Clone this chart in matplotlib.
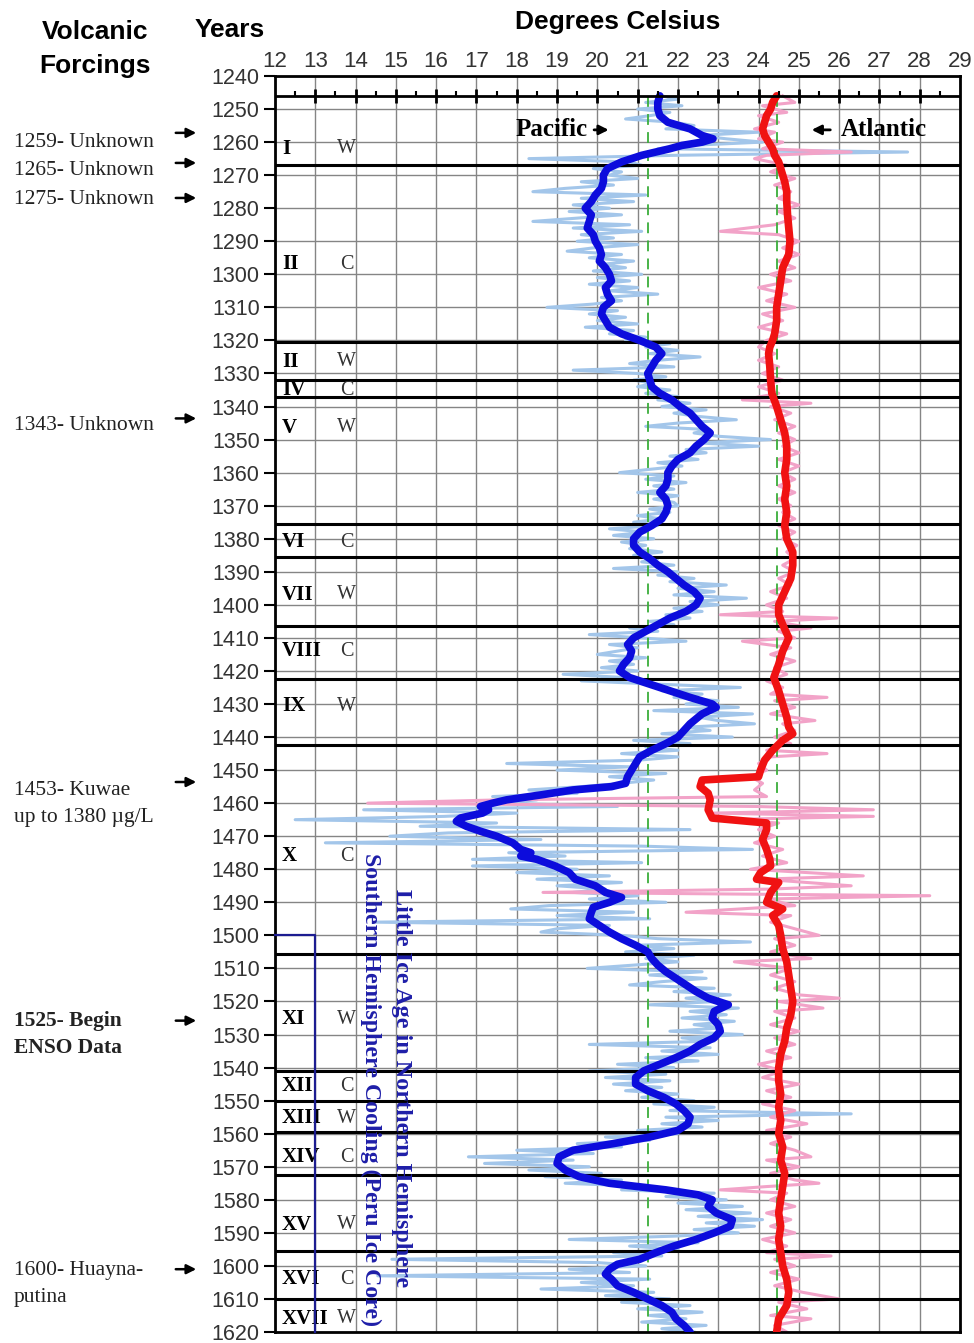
import numpy as np
import matplotlib
matplotlib.use('Agg')
from matplotlib import pyplot as plt

W, H = 974, 1343

# smoothed reconstructions (year, degrees C)
pac_years = [1246, 1248, 1250, 1252, 1254, 1256, 1258, 1259, 1260, 1261, 1262, 1264, 1266, 1268,
             1270, 1272, 1274, 1276, 1278, 1280, 1282, 1284, 1286, 1288, 1290, 1292, 1294, 1296,
             1298, 1300, 1302, 1304, 1306, 1308, 1310, 1312, 1314, 1316, 1318, 1320, 1322, 1324,
             1326, 1328, 1330, 1332, 1334, 1336, 1338, 1340, 1342, 1344, 1346, 1348, 1350, 1352,
             1354, 1356, 1358, 1360, 1362, 1364, 1366, 1368, 1370, 1372, 1374, 1376, 1378, 1380,
             1382, 1384, 1386, 1388, 1390, 1392, 1394, 1396, 1398, 1400, 1402, 1404, 1406, 1408,
             1410, 1412, 1414, 1416, 1418, 1420, 1422, 1424, 1426, 1428, 1430, 1431, 1433, 1436,
             1438, 1440, 1442, 1444, 1446, 1448, 1450, 1452, 1454, 1455, 1456, 1457.5, 1459, 1460,
             1461, 1462, 1463, 1464.5, 1465.5, 1467, 1468.5, 1470, 1472, 1474, 1475, 1476, 1477,
             1479, 1481, 1483, 1485, 1487, 1488.5, 1490, 1491.5, 1493, 1495, 1497, 1499, 1501,
             1503, 1505, 1507, 1509, 1511, 1513, 1515, 1517, 1519, 1521, 1523, 1525, 1527, 1529,
             1531, 1533, 1535, 1537, 1539, 1541, 1543, 1545, 1547, 1549, 1551, 1553, 1555, 1557,
             1559, 1561, 1563, 1565, 1567, 1569, 1571, 1573, 1575, 1577, 1578.5, 1580, 1582, 1584,
             1586, 1588, 1590, 1592, 1594, 1596, 1598, 1599.5, 1601, 1602.5, 1604, 1606, 1608,
             1610, 1612, 1614, 1616, 1618, 1620]
pac_smooth = [21.55, 21.5, 21.5, 21.55, 21.75, 22.3, 22.6, 22.87, 22.6, 22.1, 21.8, 21.1, 20.6, 20.25,
              20.15, 20.15, 20.1, 19.95, 19.85, 19.7, 19.85, 19.8, 19.75, 19.9, 19.95, 20.05, 20.1, 20.05,
              20.2, 20.3, 20.35, 20.2, 20.25, 20.35, 20.15, 20.1, 20.2, 20.3, 20.6, 21.05, 21.45, 21.6,
              21.45, 21.35, 21.25, 21.3, 21.35, 21.55, 21.85, 22.05, 22.3, 22.45, 22.6, 22.8, 22.65, 22.45,
              22.3, 22.0, 21.85, 21.75, 21.75, 21.7, 21.55, 21.7, 21.75, 21.7, 21.6, 21.35, 21.05, 20.9,
              20.9, 21.05, 21.3, 21.5, 21.75, 21.95, 22.15, 22.4, 22.55, 22.45, 22.2, 21.8, 21.5, 21.2,
              20.9, 20.75, 20.85, 20.8, 20.65, 20.55, 20.8, 21.3, 21.8, 22.3, 22.85, 22.95, 22.6, 22.3,
              22.15, 22.0, 21.7, 21.35, 21.05, 20.95, 20.85, 20.75, 20.7, 20.35, 19.4, 18.6, 17.75, 17.4,
              17.1, 17.3, 17.15, 16.6, 16.5, 16.75, 17.1, 17.5, 17.9, 18.1, 18.35, 18.1, 18.5,
              18.95, 19.3, 19.45, 19.95, 20.2, 20.6, 20.3, 19.9, 19.85, 19.8, 20.05, 20.3, 20.6,
              20.95, 21.25, 21.35, 21.5, 21.7, 21.95, 22.2, 22.45, 22.75, 23.25, 22.9, 22.85, 23.0, 23.05,
              22.9, 22.55, 22.3, 21.95, 21.55, 21.15, 20.95, 20.95, 21.25, 21.65, 21.95, 22.15, 22.3, 22.25,
              22.0, 21.3, 20.4, 19.4, 19.05, 19.0, 19.2, 19.55, 20.3, 21.7, 22.5, 22.85, 22.75, 22.95,
              23.35, 23.3, 22.9, 22.45, 21.9, 21.45, 21.05, 20.5, 20.3, 20.2, 20.35, 20.5, 20.9,
              21.25, 21.6, 21.85, 21.95, 22.15, 22.3]

atl_years = [1246, 1248, 1250, 1252, 1254, 1256, 1258, 1260, 1262, 1264, 1266, 1268, 1270, 1272,
             1275, 1278, 1282, 1286, 1290, 1294, 1298, 1302, 1306, 1310, 1314, 1318, 1320, 1322,
             1324, 1328, 1332, 1336, 1340, 1344, 1348, 1352, 1356, 1360, 1364, 1368, 1372, 1376,
             1380, 1384, 1388, 1392, 1396, 1400, 1403, 1406, 1410, 1414, 1418, 1422, 1426, 1430,
             1434, 1437, 1439, 1441, 1444, 1447, 1450, 1452, 1453, 1455, 1457, 1459, 1462, 1464.5,
             1466, 1468, 1471, 1474, 1477, 1479, 1481, 1483, 1484, 1487, 1490, 1492, 1494, 1497,
             1500, 1504, 1508, 1512, 1516, 1520, 1524, 1528, 1532, 1536, 1540, 1544, 1548, 1552,
             1556, 1560, 1564, 1568, 1572, 1576, 1580, 1584, 1588, 1592, 1596, 1600, 1604, 1608,
             1612, 1616, 1620]
atl_smooth = [24.45, 24.35, 24.3, 24.2, 24.15, 24.1, 24.15, 24.25, 24.35, 24.4, 24.5, 24.55, 24.6, 24.65,
              24.7, 24.7, 24.72, 24.75, 24.78, 24.75, 24.6, 24.55, 24.5, 24.45, 24.45, 24.4, 24.35, 24.28,
              24.25, 24.28, 24.3, 24.33, 24.45, 24.55, 24.65, 24.7, 24.7, 24.65, 24.7, 24.65, 24.7, 24.65,
              24.7, 24.85, 24.85, 24.8, 24.65, 24.5, 24.5, 24.6, 24.75, 24.6, 24.5, 24.38, 24.5, 24.6,
              24.7, 24.75, 24.85, 24.6, 24.35, 24.15, 24.05, 24.0, 22.6, 22.55, 22.75, 22.8, 22.75, 22.85,
              24.2, 24.2, 24.1, 24.2, 24.28, 24.3, 24.05, 23.95, 24.5, 24.3, 24.2, 24.6, 24.35, 24.5,
              24.55, 24.6, 24.7, 24.75, 24.8, 24.85, 24.8, 24.7, 24.65, 24.55, 24.5, 24.5, 24.55, 24.5,
              24.55, 24.5, 24.6, 24.55, 24.65, 24.6, 24.55, 24.5, 24.55, 24.5, 24.55, 24.6, 24.7, 24.75,
              24.7, 24.5, 24.45]

# annual values
pac_raw_years = list(range(1246, 1621))
pac_raw = [21.6, 22.0, 21.2, 22.1, 21.0, 21.8, 21.3, 20.7, 21.9, 22.4, 21.7, 24.0, 22.5, 23.2, 24.1,
           22.3, 21.5, 27.7, 21.9, 18.3, 20.8, 21.1, 19.9, 20.6, 20.3, 21.0, 19.6, 20.4, 19.2, 18.4,
           21.2, 19.6, 20.9, 19.4, 20.3, 19.3, 20.6, 19.5, 18.4, 20.8, 19.4, 21.1, 19.6, 20.4, 19.5,
           21.0, 19.9, 19.25, 20.6, 19.8, 20.9, 20.1, 20.7, 19.9, 21.1, 20.0, 20.8, 19.8, 21.0, 20.3,
           21.5, 20.1, 20.6, 19.9, 18.75, 20.5, 19.8, 20.7, 20.0, 21.0, 19.7, 20.9, 20.3, 21.2, 20.7,
           21.8, 21.2, 22.0, 21.3, 22.55, 21.5, 20.8, 21.9, 19.4, 21.0, 21.7, 20.9, 21.4, 21.0, 21.8,
           21.2, 22.0, 21.5, 22.3, 21.6, 22.7, 21.9, 22.5, 23.45, 22.0, 21.2, 22.8, 22.4, 23.0, 24.3,
           22.5, 24.0, 22.2, 22.7, 21.8, 22.5, 21.5, 22.1, 21.3, 20.55, 21.9, 21.2, 22.2, 21.4, 21.9,
           21.0, 22.0, 21.4, 21.9, 22.0, 21.3, 21.8, 21.0, 21.6, 20.9, 21.5, 20.3, 21.2, 20.4, 21.4,
           20.6, 21.2, 20.8, 21.6, 20.9, 21.5, 21.1, 21.9, 20.4, 22.0, 21.5, 22.4, 21.8, 23.2, 22.0,
           22.9, 21.9, 23.7, 22.3, 23.0, 21.9, 22.6, 21.7, 22.3, 21.3, 21.9, 20.8, 21.5, 19.8, 21.1,
           22.2, 20.3, 21.0, 20.5, 20.0, 21.2, 20.3, 20.9, 20.1, 21.0, 19.15, 20.7, 19.6, 21.5, 23.55,
           21.6, 22.6, 21.9, 23.0, 22.2, 23.5, 21.4, 23.85, 22.5, 23.0, 23.9, 22.2, 22.8, 21.6, 23.35,
           20.9, 22.3, 21.2, 22.0, 20.6, 22.0, 21.0, 17.75, 20.8, 19.0, 21.7, 20.3, 21.4, 20.6, 19.6,
           18.3, 19.5, 17.4, 18.5, 17.6, 20.5, 14.2, 18.0, 16.2, 12.5, 17.5, 15.6, 22.3, 16.3, 14.85,
           18.6, 13.25, 21.1, 23.85, 17.8, 19.2, 16.9, 21.1, 16.9, 19.5, 18.0, 20.3, 18.5, 20.6, 19.0,
           20.2, 19.4, 21.0, 19.8, 21.7, 18.8, 17.85, 20.9, 19.0, 21.3, 14.5, 20.3, 19.0, 18.6, 20.6,
           21.5, 23.8, 20.9, 21.9, 20.7, 22.4, 21.2, 22.0, 20.9, 19.75, 22.6, 21.3, 22.7, 21.6, 20.8,
           22.9, 21.9, 23.3, 22.2, 23.0, 21.3, 23.5, 22.3, 23.2, 22.1, 23.4, 22.4, 23.1, 21.8, 23.6,
           22.1, 22.9, 19.8, 22.8, 21.6, 23.0, 21.2, 22.5, 20.5, 21.9, 19.8, 21.7, 20.2, 21.8, 20.4,
           21.6, 20.7, 22.0, 21.1, 22.4, 21.4, 22.9, 21.8, 26.3, 21.7, 23.0, 21.6, 22.6, 21.0, 22.0,
           20.2, 21.3, 19.5, 20.6, 18.0, 19.9, 16.8, 19.4, 17.2, 19.8, 18.3, 20.1, 18.7, 20.6, 19.2,
           21.3, 20.6, 22.9, 21.7, 23.2, 22.0, 23.6, 22.2, 23.8, 22.5, 24.1, 22.7, 23.9, 22.4, 23.5,
           21.9, 19.3, 22.5, 20.8, 22.0, 20.4, 21.6, 14.9, 20.0, 21.2, 19.3, 20.8, 14.55, 21.3, 19.6,
           20.9, 18.6, 21.4, 20.2, 21.8, 20.6, 22.3, 21.0, 22.6, 21.3, 22.2, 21.1, 22.7, 21.6, 22.4]

atl_raw_years = [1246, 1248, 1249, 1251, 1252, 1254, 1256, 1257, 1259, 1260, 1262, 1263, 1264, 1265,
                 1267, 1269, 1271, 1273, 1275, 1277, 1279, 1281, 1283, 1285, 1287, 1288, 1290, 1292,
                 1294, 1296, 1298, 1300, 1302, 1304, 1306, 1308, 1310, 1312, 1314, 1316, 1318, 1320,
                 1322, 1324, 1326, 1328, 1330, 1332, 1334, 1336, 1338, 1339, 1340, 1342, 1344, 1346,
                 1348, 1350, 1352, 1354, 1356, 1358, 1360, 1362, 1364, 1366, 1368, 1370, 1372, 1374,
                 1376, 1378, 1380, 1382, 1384, 1386, 1388, 1390, 1392, 1394, 1396, 1398, 1400, 1402,
                 1403, 1404, 1405, 1407, 1408, 1410, 1411, 1413, 1415, 1417, 1419, 1421, 1423, 1425,
                 1427, 1428, 1429, 1431, 1433, 1435, 1436, 1438, 1440, 1442, 1444, 1445, 1446, 1448,
                 1450, 1452, 1454, 1456, 1458, 1459, 1460, 1461, 1462, 1463, 1464, 1465, 1466, 1468,
                 1470, 1472, 1474, 1476, 1478, 1480, 1482, 1483, 1485, 1486, 1487, 1488, 1489, 1491,
                 1493, 1494, 1496, 1498, 1500, 1501, 1503, 1505, 1507, 1508, 1510, 1512, 1514, 1516,
                 1518, 1519, 1520, 1522, 1523, 1525, 1527, 1529, 1531, 1533, 1535, 1537, 1539, 1541,
                 1543, 1545, 1547, 1549, 1551, 1553, 1555, 1557, 1559, 1561, 1563, 1565, 1567, 1568,
                 1570, 1572, 1574, 1575, 1576, 1577, 1578, 1580, 1582, 1584, 1586, 1588, 1590, 1592,
                 1594, 1596, 1597, 1598, 1600, 1602, 1604, 1606, 1608, 1610, 1611, 1613, 1615, 1616,
                 1618, 1620]
atl_raw = [24.6, 24.9, 24.1, 24.7, 24.0, 24.5, 23.9, 24.4, 24.0, 24.6, 24.1, 26.3, 24.2, 23.9,
           24.7, 24.3, 24.9, 24.4, 24.8, 24.5, 25.0, 24.5, 24.9, 24.4, 23.05, 24.5, 25.0, 24.6,
           25.0, 24.5, 24.9, 24.3, 24.8, 24.0, 24.7, 24.2, 24.9, 24.1, 24.6, 24.0, 24.7, 24.2,
           24.0, 24.4, 24.0, 24.5, 24.1, 24.6, 24.0, 24.5, 23.6, 25.3, 24.3, 24.8, 24.4, 24.9,
           24.5, 24.9, 24.6, 25.0, 24.5, 25.0, 24.6, 24.9, 24.5, 24.9, 24.5, 24.8, 24.6, 24.9,
           24.5, 24.9, 24.6, 24.95, 24.7, 24.9, 24.6, 24.9, 24.5, 24.8, 24.3, 24.7, 24.2, 24.6,
           23.05, 25.95, 24.4, 25.3, 24.5, 24.9, 23.6, 24.8, 24.3, 24.9, 24.4, 24.7, 24.2, 24.6,
           24.3, 25.7, 24.4, 24.9, 24.3, 25.4, 24.6, 24.9, 24.4, 24.8, 24.2, 25.7, 24.3, 24.0,
           24.2, 23.8, 24.1, 23.9, 24.2, 17.6, 14.3, 23.95, 26.85, 22.9, 26.85, 23.0, 24.5, 24.0,
           24.4, 23.9, 24.6, 24.1, 24.7, 23.8, 26.6, 24.1, 26.3, 24.3, 18.65, 28.25, 24.2, 24.9,
           22.2, 24.8, 24.3, 24.9, 25.5, 24.4, 24.9, 24.3, 25.3, 23.4, 24.8, 24.3, 24.9, 24.4,
           25.0, 26.0, 24.5, 25.6, 24.4, 24.9, 24.3, 25.0, 24.4, 24.9, 24.2, 24.8, 24.0, 24.6,
           24.1, 25.0, 24.2, 24.8, 24.1, 24.9, 24.3, 25.2, 24.2, 24.8, 24.3, 24.9, 25.3, 24.2,
           25.0, 24.3, 24.9, 25.5, 24.2, 23.05, 24.7, 24.3, 24.9, 24.2, 24.8, 24.3, 24.9, 24.1,
           24.7, 24.2, 25.8, 24.4, 24.9, 24.3, 25.0, 24.4, 25.1, 26.0, 24.5, 25.2, 24.3, 25.3,
           24.4, 24.7]

pac_mean = 21.25
atl_mean = 24.45

# climate phases: boundaries and labels
phase_bounds = [1267, 1320.5, 1332, 1337, 1375.5, 1385.5, 1406.5, 1422.5, 1442.5, 1505.5,
                1541, 1550, 1559.5, 1572.5, 1595.5, 1610]
phase_names = ['I', 'II', 'II', 'IV', 'V', 'VI', 'VII', 'VIII', 'IX', 'X', 'XI', 'XII', 'XIII',
               'XIV', 'XV', 'XVI', 'XVII']
phase_kind = ['W', 'C', 'W', 'C', 'W', 'C', 'W', 'C', 'W', 'C', 'W', 'C', 'W', 'C', 'W', 'C', 'W']
phase_label_years = [1262, 1297, 1326.5, 1335, 1346.4, 1381, 1397, 1414, 1430.7, 1476, 1525.4,
                     1545.6, 1555.3, 1567.1, 1587.6, 1604, 1616]

# eruption notes: text lines, arrow year, text year, bold
eruptions = [(['1259- Unknown'], 1257.2, 1260.2, False),
             (['1265- Unknown'], 1266.3, 1268.6, False),
             (['1275- Unknown'], 1276.9, 1277.3, False),
             (['1343- Unknown'], 1343.6, 1345.6, False),
             (['1453- Kuwae', 'up to 1380 \u00b5g/L'], 1453.6, 1456.1, False),
             (['1525- Begin', 'ENSO Data'], 1525.8, 1526.0, True),
             (['1600- Huayna-', 'putina'], 1601.0, 1601.5, False)]

lia_start = 1500
lia_x = 13

sans = 'Liberation Sans'
serif = 'Liberation Serif'

fig = plt.figure(figsize=(W / 100, H / 100), dpi=100)
ax = fig.add_axes([275 / W, 1 - 1332 / H, 685 / W, 1256 / H])
ax.set_xlim(12, 29)
ax.set_ylim(1620, 1240)

ax.xaxis.tick_top()
ax.set_xticks(range(12, 30))
ax.set_yticks(range(1240, 1621, 10))
ax.tick_params(axis='x', length=0, pad=3, labelsize=16, labelcolor='#333333')
ax.tick_params(axis='y', length=8, width=1.5, pad=3, labelsize=15.5, labelcolor='#333333')
for lab in ax.get_xticklabels() + ax.get_yticklabels():
    lab.set_family(sans)
ax.grid(color='#858585', lw=1, zorder=0)
ax.set_axisbelow(True)
for s in ax.spines.values():
    s.set_linewidth(2)

# inner temperature scale line
ax.axhline(1246, color='black', lw=2, zorder=5)
ax.vlines(range(13, 29), 1243.9, 1248.3, color='black', lw=2, zorder=5)
ax.vlines(np.arange(12.5, 29, 1), 1244.4, 1246, color='black', lw=1.5, zorder=5)

# annual series
ax.plot(pac_raw, pac_raw_years, color='#a3c6ea', lw=2.2, zorder=2)
ax.plot(atl_raw, atl_raw_years, color='#f2a3c8', lw=2.2, zorder=2)

ax.vlines([pac_mean, atl_mean], 1246, 1620, color='#3aae3a', lw=1.3,
          linestyles=(0, (6, 4)), zorder=2.3)
ax.hlines(phase_bounds, 12, 29, color='black', lw=2.2, zorder=2.5)

# smoothed series
ax.plot(pac_smooth, pac_years, color='#0c0cdc', lw=5.5, solid_joinstyle='round',
        solid_capstyle='round', zorder=3)
ax.plot(atl_smooth, atl_years, color='#f01212', lw=5.5, solid_joinstyle='round',
        solid_capstyle='round', zorder=3)

for name, kind, yr in zip(phase_names, phase_kind, phase_label_years):
    ax.text(12.17, yr, name, family=serif, weight='bold', fontsize=15, va='center',
            ha='left', zorder=4)
    ax.text(13.78, yr, kind, family=serif, fontsize=14.5, va='center', ha='center',
            color='#333333', zorder=4)

# Little Ice Age bracket
ax.plot([12, lia_x, lia_x], [lia_start, lia_start, 1620], color='#1c1c90', lw=1.6, zorder=4,
        clip_on=False)
ax.text(15.15, 1486, 'Little Ice Age in Northern Hemisphere', rotation=-90, family=serif,
        weight='bold', fontsize=17.4, color='#1e1ea8', ha='center', va='top', zorder=4)
ax.text(14.36, 1475, 'Southern Hemisphere Cooling (Peru Ice Core)', rotation=-90, family=serif,
        weight='bold', fontsize=17.2, color='#1e1ea8', ha='center', va='top', zorder=4)

# ocean labels
ax.text(17.98, 1256.3, 'Pacific', family=serif, weight='bold', fontsize=18, va='center',
        ha='left', zorder=4)
ax.annotate('', xy=(20.35, 1256.3), xytext=(19.85, 1256.3),
            arrowprops=dict(arrowstyle='-|>', color='black', lw=2, mutation_scale=14), zorder=4)
ax.text(26.05, 1256.3, 'Atlantic', family=serif, weight='bold', fontsize=18, va='center',
        ha='left', zorder=4)
ax.annotate('', xy=(25.25, 1256.3), xytext=(25.85, 1256.3),
            arrowprops=dict(arrowstyle='-|>', color='black', lw=2, mutation_scale=14), zorder=4)

# headers
fig.text(618 / W, 1 - 22 / H, 'Degrees Celsius', family=sans, weight='bold', fontsize=19,
         ha='center', va='center')
fig.text(230 / W, 1 - 30 / H, 'Years', family=sans, weight='bold', fontsize=19,
         ha='center', va='center')
fig.text(95 / W, 1 - 32 / H, 'Volcanic', family=sans, weight='bold', fontsize=19,
         ha='center', va='center')
fig.text(95 / W, 1 - 66 / H, 'Forcings', family=sans, weight='bold', fontsize=19,
         ha='center', va='center')

# eruption notes with arrows pointing at the year axis
to_px = ax.transData
for lines, arrow_yr, text_yr, bold in eruptions:
    ay = to_px.transform((12, arrow_yr))[1]
    ty = to_px.transform((12, text_yr))[1]
    ax.annotate('', xy=(199, ay), xytext=(173, ay), xycoords='figure pixels',
                textcoords='figure pixels',
                arrowprops=dict(arrowstyle='-|>', color='black', lw=1.8, mutation_scale=14))
    for i, line in enumerate(lines):
        fig.text(14 / W, (ty - 27 * i) / H, line, family=serif, fontsize=15.5,
                 weight='bold' if bold else 'normal', ha='left', va='center', color='#222222')

fig.savefig('out.png', dpi=100)
